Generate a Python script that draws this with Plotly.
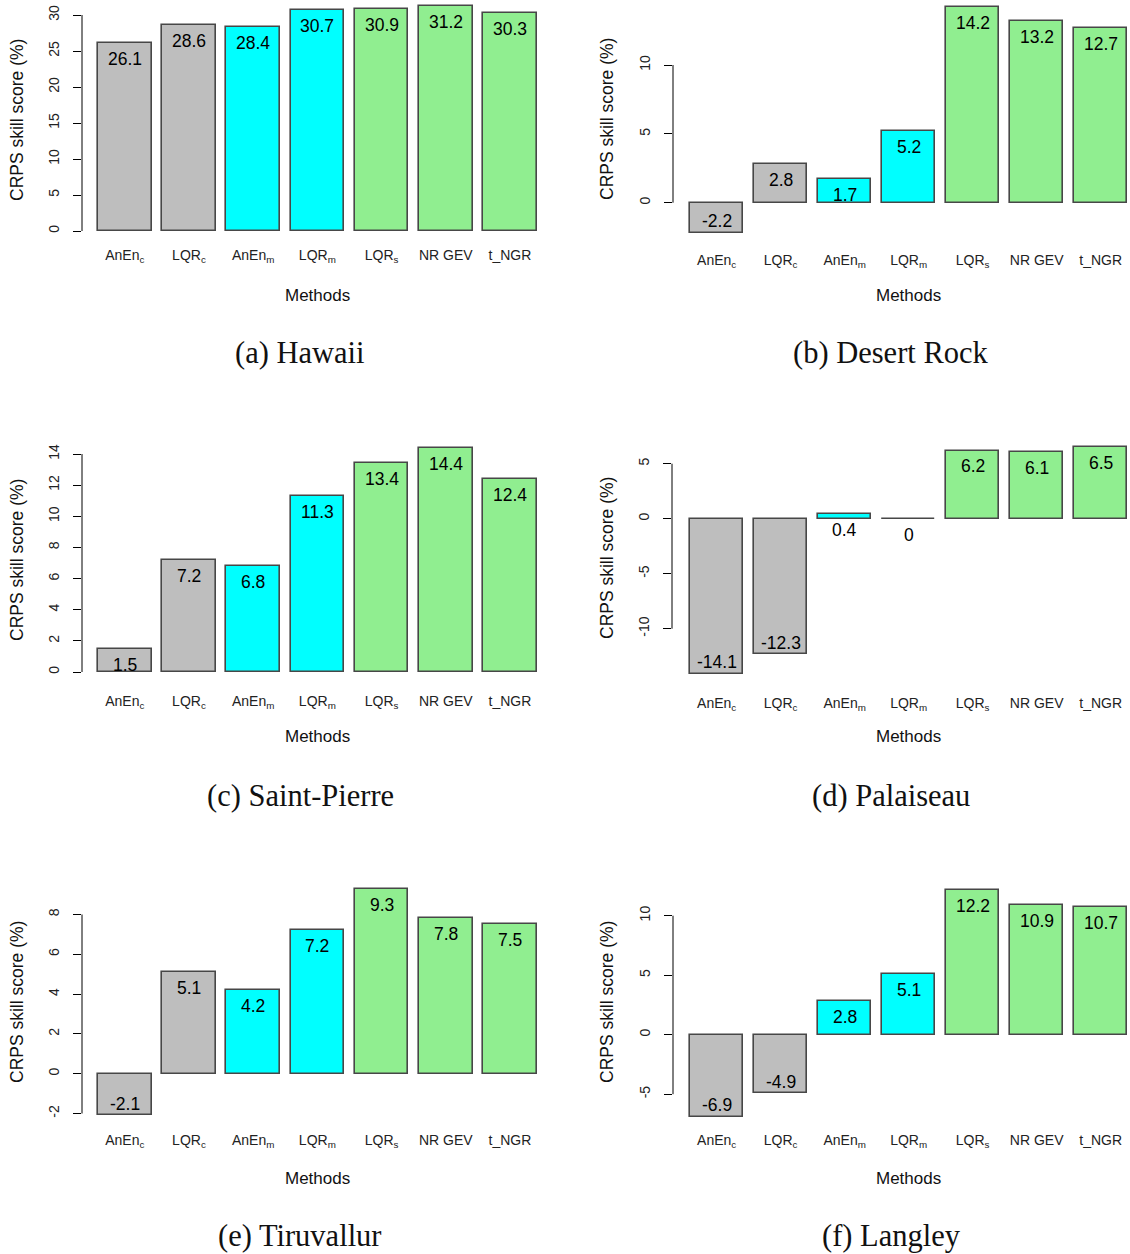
import plotly.graph_objects as go

W, H = 1130, 1254

# ---------------- data ----------------
methods = ["AnEn<sub>c</sub>", "LQR<sub>c</sub>", "AnEn<sub>m</sub>", "LQR<sub>m</sub>",
           "LQR<sub>s</sub>", "NR GEV", "t_NGR"]
method_colors = ["#BEBEBE", "#BEBEBE", "#00FFFF", "#00FFFF", "#90EE90", "#90EE90", "#90EE90"]

hawaii = [26.1, 28.6, 28.4, 30.7, 30.9, 31.2, 30.3]
desert_rock = [-2.2, 2.8, 1.7, 5.2, 14.2, 13.2, 12.7]
saint_pierre = [1.5, 7.2, 6.8, 11.3, 13.4, 14.4, 12.4]
palaiseau = [-14.1, -12.3, 0.4, 0, 6.2, 6.1, 6.5]
tiruvallur = [-2.1, 5.1, 4.2, 7.2, 9.3, 7.8, 7.5]
langley = [-6.9, -4.9, 2.8, 5.1, 12.2, 10.9, 10.7]

captions = ["(a) Hawaii", "(b) Desert Rock", "(c) Saint-Pierre",
            "(d) Palaiseau", "(e) Tiruvallur", "(f) Langley"]
series = [hawaii, desert_rock, saint_pierre, palaiseau, tiruvallur, langley]
yticks = [[0, 5, 10, 15, 20, 25, 30], [0, 5, 10], [0, 2, 4, 6, 8, 10, 12, 14],
          [-10, -5, 0, 5], [-2, 0, 2, 4, 6, 8], [-5, 0, 5, 10]]

y_title = "CRPS skill score (%)"
x_title = "Methods"

# ---------------- layout geometry (pixels) ----------------
geom = [
    dict(ax=82, b1=98, pitch=64.2, y0=231.0, ppu=7.2, top=0, lab=257, right=550,
         ytc=120, mx=317, my=295, cx=300, cy=353, ytx=17),
    dict(ax=673, b1=690, pitch=64.0, y0=202.7, ppu=13.77, top=0, lab=262, right=1130,
         ytc=119, mx=908, my=295, cx=891, cy=353, ytx=607),
    dict(ax=82, b1=98, pitch=64.2, y0=672.0, ppu=15.57, top=400, lab=703, right=550,
         ytc=560, mx=317, my=736, cx=300, cy=796, ytx=17),
    dict(ax=672, b1=690, pitch=64.0, y0=518.7, ppu=11.0, top=400, lab=705, right=1130,
         ytc=558, mx=908, my=736, cx=891, cy=796, ytx=607),
    dict(ax=82, b1=98, pitch=64.2, y0=1073.7, ppu=19.9, top=860, lab=1142, right=550,
         ytc=1002, mx=317, my=1178, cx=300, cy=None, ytx=17),
    dict(ax=673, b1=690, pitch=64.0, y0=1034.7, ppu=11.9, top=860, lab=1142, right=1130,
         ytc=1002, mx=908, my=1178, cx=891, cy=None, ytx=607),
]

SANS = "Liberation Sans, Arial, sans-serif"
SERIF = "Liberation Serif, Times New Roman, serif"
BAR_W = 1 / 1.2

fig = go.Figure()
annotations = []
shapes = []
layout_axes = {}

for n, (vals, g, tv, cap) in enumerate(zip(series, geom, yticks, captions), start=1):
    sfx = "" if n == 1 else str(n)
    xref, yref = "x" + sfx, "y" + sfx
    c1 = g["b1"] + BAR_W * g["pitch"] / 2
    xr = [-(c1 - g["ax"]) / g["pitch"], (g["right"] - c1) / g["pitch"]]
    bottom = g["lab"] - 12
    yr = [(g["y0"] - bottom) / g["ppu"], (g["y0"] - g["top"]) / g["ppu"]]
    xdom = [g["ax"] / W, g["right"] / W]
    ydom = [1 - bottom / H, 1 - g["top"] / H]

    fig.add_trace(go.Bar(
        x=list(range(len(vals))), y=vals, width=BAR_W,
        marker=dict(color=method_colors, line=dict(color="#474747", width=1.6)),
        xaxis=xref, yaxis=yref, showlegend=False, hoverinfo="skip",
    ))

    layout_axes["xaxis" + sfx] = dict(
        domain=xdom, range=xr, anchor=yref, tickmode="array",
        tickvals=list(range(len(vals))), ticktext=methods,
        showline=False, showgrid=False, zeroline=False, ticks="",
        tickfont=dict(family=SANS, size=14, color="#222"), fixedrange=True,
    )
    layout_axes["yaxis" + sfx] = dict(
        domain=ydom, range=yr, anchor=xref, tickmode="array", tickvals=tv,
        ticktext=[str(t) for t in tv],
        showline=False, showgrid=False, zeroline=False, ticks="outside",
        ticklen=8, tickwidth=1, tickcolor="#000", tickangle=-90,
        ticklabelstandoff=8,
        tickfont=dict(family=SANS, size=14, color="#222"), fixedrange=True,
    )
    # axis line spanning tick range (R style)
    shapes.append(dict(type="line", xref=xref + " domain", yref=yref,
                       x0=0, x1=0, y0=min(tv), y1=max(tv),
                       line=dict(color="#000", width=1)))
    # value labels
    for i, v in enumerate(vals):
        annotations.append(dict(
            x=i, y=v, xref=xref, yref=yref, text=f"{v:g}", showarrow=False,
            yshift=-16 if v >= 0 else 11.5,
            font=dict(family=SANS, size=17.5, color="#000"),
        ))
    # y title
    annotations.append(dict(x=g["ytx"] / W, y=1 - g["ytc"] / H, xref="paper", yref="paper",
                            text=y_title, textangle=-90, showarrow=False,
                            xanchor="center", yanchor="middle",
                            font=dict(family=SANS, size=17.5, color="#111")))
    # x title
    annotations.append(dict(x=g["mx"] / W, y=1 - g["my"] / H, xref="paper", yref="paper",
                            text=x_title, showarrow=False, xanchor="center", yanchor="middle",
                            font=dict(family=SANS, size=17, color="#111")))
    # caption
    if g["cy"] is None:
        cap_pos = dict(y=0, yanchor="bottom", borderpad=0)
    else:
        cap_pos = dict(y=1 - g["cy"] / H, yanchor="middle")
    annotations.append(dict(x=g["cx"] / W, xref="paper", yref="paper",
                            text=cap, showarrow=False, xanchor="center",
                            font=dict(family=SERIF, size=30.5, color="#111"), **cap_pos))

fig.update_layout(
    width=W, height=H, margin=dict(l=0, r=0, t=0, b=0),
    paper_bgcolor="white", plot_bgcolor="white",
    annotations=annotations, shapes=shapes, bargap=0,
    **layout_axes,
)

fig.write_html("out.html", config={"displayModeBar": False},
               post_script="document.body.style.margin='0';document.body.style.overflow='hidden';")
